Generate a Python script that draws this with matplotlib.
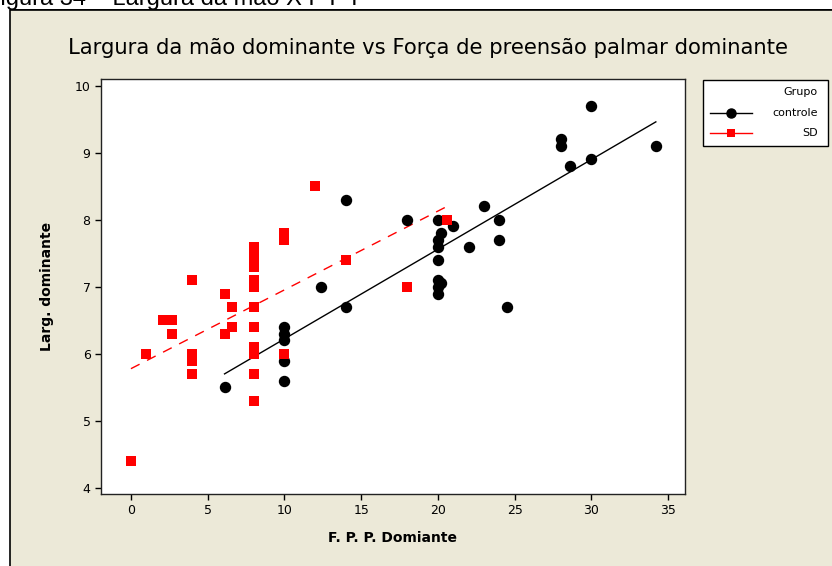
import matplotlib
matplotlib.use('Agg')
import matplotlib.pyplot as plt
from matplotlib.patches import Rectangle
from matplotlib.lines import Line2D
import numpy as np

# Dados
controle_fpp = [6.1, 10, 10, 10, 10, 10, 12.4, 14, 14, 18, 20, 20.2, 20, 20, 21,
                20, 20, 20.2, 20, 20, 22, 23, 24, 24, 24.5, 28, 28, 28.6, 30, 30, 34.2]
controle_larg = [5.5, 6.4, 6.3, 6.2, 5.9, 5.6, 7.0, 8.3, 6.7, 8.0, 8.0, 7.8, 7.7, 7.6, 7.9,
                 7.4, 7.1, 7.05, 7.0, 6.9, 7.6, 8.2, 8.0, 7.7, 6.7, 9.2, 9.1, 8.8, 9.7, 8.9, 9.1]

sd_fpp = [0, 1, 2.1, 2.7, 2.7, 4, 4, 4, 4, 6.1, 6.6, 6.6, 6.1,
          8, 8, 8, 8, 8, 8, 8, 8, 8, 8, 8, 8, 10, 10, 10, 12, 14, 18, 20.6]
sd_larg = [4.4, 6.0, 6.5, 6.5, 6.3, 7.1, 6.0, 5.9, 5.7, 6.9, 6.7, 6.4, 6.3,
           7.6, 7.5, 7.4, 7.3, 7.1, 7.0, 6.7, 6.4, 6.1, 6.0, 5.7, 5.3, 7.8, 7.7, 6.0, 8.5, 7.4, 7.0, 8.0]

x_ticks = [0, 5, 10, 15, 20, 25, 30, 35]
y_ticks = [4, 5, 6, 7, 8, 9, 10]

bege = '#ECE9D8'

fig = plt.figure(figsize=(8.32, 5.66), dpi=100)
fig.patch.set_facecolor('white')

# painel bege com borda (janela do Minitab)
fig.add_artist(Rectangle((10 / 832, -0.01), 1.0, 1 - 10 / 566 + 0.01,
                         transform=fig.transFigure, facecolor=bege,
                         edgecolor='black', linewidth=1.2, zorder=0))

# legenda da figura, cortada no topo como no original
fig.text(-14 / 832, 1 - 5 / 566, 'Figura 34 – Largura da mão X F P P', fontsize=17,
         family='Liberation Sans', ha='left', va='baseline', zorder=2)
fig.add_artist(Rectangle((10 / 832, 1 - 10 / 566), 1.0, 0.6 / 566,
                         transform=fig.transFigure, facecolor='black',
                         edgecolor='none', zorder=3))

ax = fig.add_axes([101 / 832, 1 - 494 / 566, (685 - 101) / 832, (494 - 79) / 566])
ax.set_facecolor('white')

ax.plot(controle_fpp, controle_larg, 'o', color='black', markersize=7.2, zorder=3)
ax.plot(sd_fpp, sd_larg, 's', color='red', markersize=7, markeredgewidth=0, zorder=3)

# retas de regressão
for xs, ys, cor, estilo in [(controle_fpp, controle_larg, 'black', '-'),
                            (sd_fpp, sd_larg, 'red', (0, (7, 6)))]:
    b, a = np.polyfit(xs, ys, 1)
    xx = np.array([min(xs), max(xs)])
    ax.plot(xx, a + b * xx, color=cor, linestyle=estilo, linewidth=1, zorder=2)

ax.set_xlim(-1.95, 36.1)
ax.set_ylim(3.91, 10.1)
ax.set_xticks(x_ticks)
ax.set_yticks(y_ticks)
ax.tick_params(direction='out', length=4, width=1, labelsize=9, colors='black')
for s in ax.spines.values():
    s.set_linewidth(1)
    s.set_color('#222222')

fig.text(393 / 832, 1 - 538 / 566, 'F. P. P. Domiante', fontsize=10, fontweight='bold',
         ha='center', va='center')
fig.text(47 / 832, 1 - 286 / 566, 'Larg. dominante', fontsize=10, fontweight='bold',
         ha='center', va='center', rotation=90)
fig.text(428 / 832, 1 - 48 / 566,
         'Largura da mão dominante vs Força de preensão palmar dominante',
         fontsize=15.2, ha='center', va='center')

# legenda manual
fig.add_artist(Rectangle((703 / 832, 1 - 146 / 566), 125 / 832, 66 / 566,
                         transform=fig.transFigure, facecolor='white',
                         edgecolor='black', linewidth=1, zorder=1))
fig.text(818 / 832, 1 - 92 / 566, 'Grupo', fontsize=8, ha='right', va='center')
fig.text(818 / 832, 1 - 113 / 566, 'controle', fontsize=8, ha='right', va='center')
fig.text(818 / 832, 1 - 133 / 566, 'SD', fontsize=8, ha='right', va='center')
fig.add_artist(Line2D([710 / 832, 752 / 832], [1 - 113 / 566] * 2, color='black', lw=1,
                      transform=fig.transFigure))
fig.add_artist(Line2D([731 / 832], [1 - 113 / 566], marker='o', color='black',
                      markersize=6.5, transform=fig.transFigure))
fig.add_artist(Line2D([710 / 832, 752 / 832], [1 - 133 / 566] * 2, color='red', lw=1,
                      transform=fig.transFigure))
fig.add_artist(Line2D([731 / 832], [1 - 133 / 566], marker='s', color='red',
                      markersize=6, markeredgewidth=0, transform=fig.transFigure))

fig.savefig('out.png', dpi=100, facecolor=fig.get_facecolor())
